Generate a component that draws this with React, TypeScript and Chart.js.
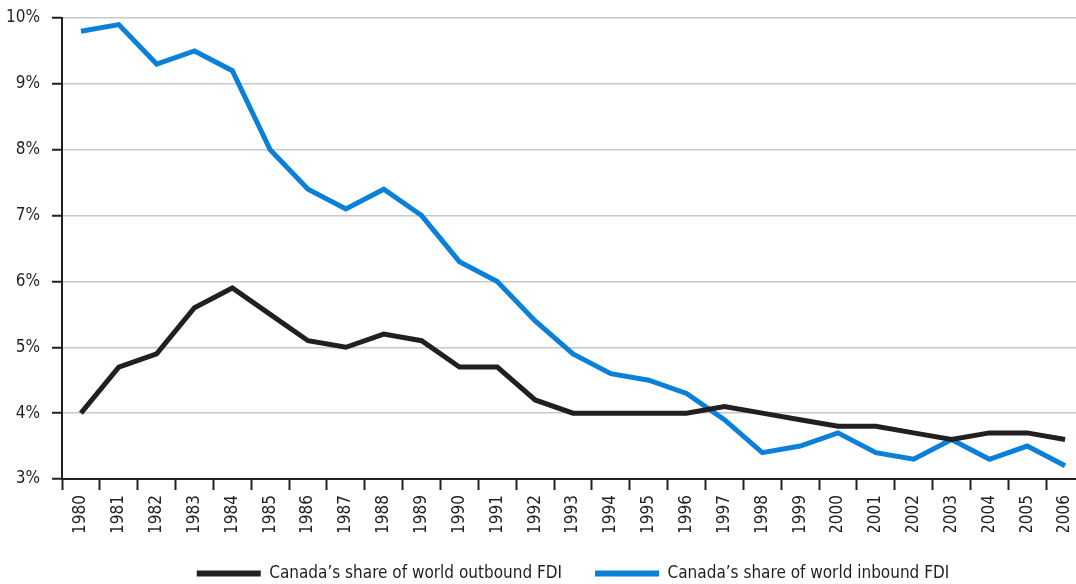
import React, { useEffect, useRef } from "react";
import { Chart, registerables } from "chart.js";

Chart.register(...registerables);

const years = [
  "1980", "1981", "1982", "1983", "1984", "1985", "1986", "1987", "1988", "1989",
  "1990", "1991", "1992", "1993", "1994", "1995", "1996", "1997", "1998", "1999",
  "2000", "2001", "2002", "2003", "2004", "2005", "2006",
];

const outbound = [
  4.0, 4.7, 4.9, 5.6, 5.9, 5.5, 5.1, 5.0, 5.2, 5.1,
  4.7, 4.7, 4.2, 4.0, 4.0, 4.0, 4.0, 4.1, 4.0, 3.9,
  3.8, 3.8, 3.7, 3.6, 3.7, 3.7, 3.6,
];

const inbound = [
  9.8, 9.9, 9.3, 9.5, 9.2, 8.0, 7.4, 7.1, 7.4, 7.0,
  6.3, 6.0, 5.4, 4.9, 4.6, 4.5, 4.3, 3.9, 3.4, 3.5,
  3.7, 3.4, 3.3, 3.6, 3.3, 3.5, 3.2,
];

const seriesLabels = [
  "Canada\u2019s share of world outbound FDI",
  "Canada\u2019s share of world inbound FDI",
];

const DARK = "#231f20";
const BLUE = "#0a80d8";
const GRID = "#c8c8c8";
const FONT = "'DejaVu Sans Condensed', 'Liberation Sans Narrow', sans-serif";

export default function App() {
  const ref = useRef<HTMLCanvasElement | null>(null);

  useEffect(() => {
    if (!ref.current) return;
    const chart = new Chart(ref.current, {
      type: "line",
      data: {
        labels: years,
        datasets: [
          {
            label: seriesLabels[0],
            data: outbound,
            borderColor: DARK,
            backgroundColor: DARK,
            borderWidth: 5,
            pointRadius: 0,
            tension: 0,
          },
          {
            label: seriesLabels[1],
            data: inbound,
            borderColor: BLUE,
            backgroundColor: BLUE,
            borderWidth: 5,
            pointRadius: 0,
            tension: 0,
          },
        ],
      },
      options: {
        responsive: false,
        animation: false,
        layout: { padding: { top: 18, left: 0, right: 0, bottom: 0 } },
        plugins: {
          tooltip: { enabled: false },
          legend: {
            position: "bottom",
            fullSize: false,
            labels: {
              boxWidth: 64,
              boxHeight: 6,
              padding: 33,
              color: DARK,
              font: { family: FONT, size: 17 },
              generateLabels: (c: any) =>
                c.data.datasets.map((d: any, i: number) => ({
                  text: d.label,
                  fillStyle: d.borderColor,
                  strokeStyle: d.borderColor,
                  lineWidth: 0,
                  datasetIndex: i,
                  hidden: false,
                  fontColor: DARK,
                })),
            },
          },
        },
        scales: {
          x: {
            offset: true,
            grid: {
              offset: true,
              drawOnChartArea: false,
              drawTicks: true,
              tickLength: 11,
              tickColor: DARK,
              tickWidth: 2,
            },
            border: { display: true, color: DARK, width: 2 },
            ticks: {
              minRotation: 90,
              maxRotation: 90,
              autoSkip: false,
              padding: 5,
              color: DARK,
              font: { family: FONT, size: 17 },
            },
            afterFit: (s: any) => {
              s.height = 53;
              s.paddingLeft = 0;
              s.paddingRight = 0;
            },
          },
          y: {
            min: 3,
            max: 10,
            grid: {
              color: GRID,
              lineWidth: 1.5,
              tickColor: DARK,
              tickWidth: 2,
              tickLength: 10,
            },
            border: { display: true, color: DARK, width: 2 },
            ticks: {
              stepSize: 1,
              padding: 12,
              color: DARK,
              font: { family: FONT, size: 17 },
              callback: (v: any) => v + "%",
            },
            afterFit: (s: any) => {
              s.width = 62;
              s.paddingTop = 0;
              s.paddingBottom = 0;
            },
          },
        },
      },
    });
    return () => chart.destroy();
  }, []);

  return (
    <div
      style={{
        position: "fixed",
        left: 0,
        top: 0,
        width: 1076,
        height: 584,
        overflow: "hidden",
        background: "#fff",
      }}
    >
      <canvas ref={ref} width={1084} height={592} style={{ display: "block" }} />
    </div>
  );
}
